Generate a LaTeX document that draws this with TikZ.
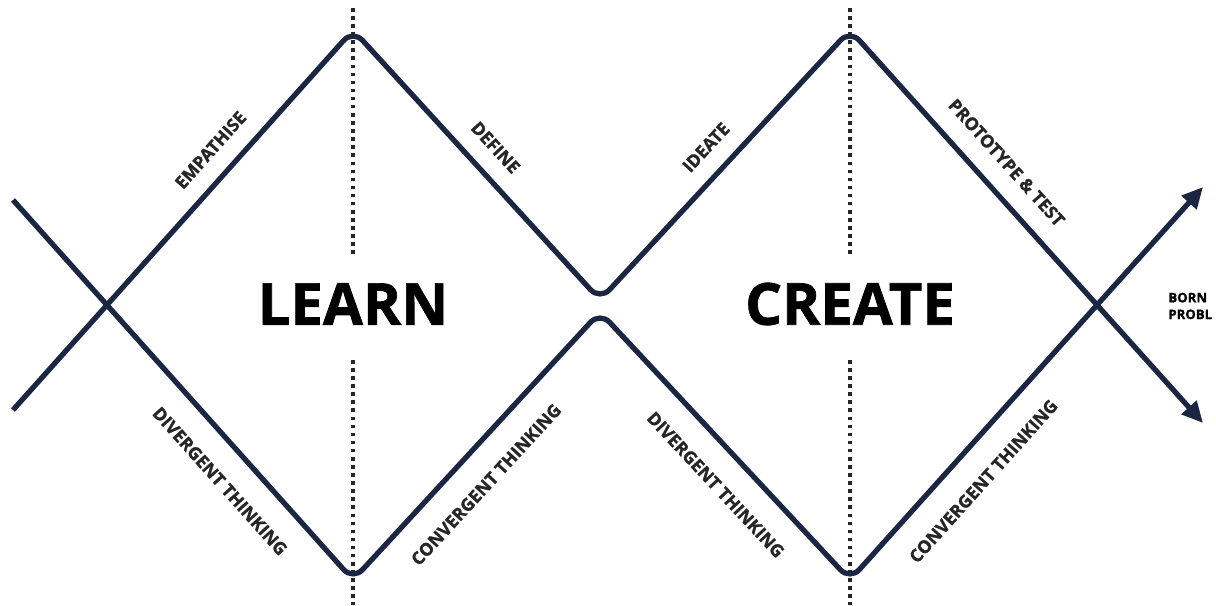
\documentclass[tikz,border=0pt]{standalone}
\usepackage{fontspec}
\setmainfont{Open Sans}
\newfontfamily\heavyfont{Open Sans}[BoldFeatures={FakeBold=1.2}]
\usetikzlibrary{arrows.meta}

\definecolor{navy}{HTML}{1B2742}

\tikzset{
  wave/.style={draw=navy, line width=3pt, rounded corners=8pt},
  divider/.style={draw=black!85, line width=2pt, dash pattern=on 2pt off 2.6pt},
  stage/.style={font=\heavyfont\bfseries\fontsize{10}{12}\selectfont, text=black!85, inner sep=0pt, sloped},
  phase/.style={font=\heavyfont\bfseries\fontsize{33}{36}\selectfont, text=black},
}

\begin{document}
\begin{tikzpicture}[x=0.02cm, y=-0.02cm]
  \useasboundingbox (0,0) rectangle (1216,605);

  % corners of the upper and the lower line
  \coordinate (u0) at (13,410);
  \coordinate (u1) at (353,30);
  \coordinate (u2) at (600,300);
  \coordinate (u3) at (850,30);
  \coordinate (u4) at (1203,423);

  \coordinate (l0) at (13,200);
  \coordinate (l1) at (353,580);
  \coordinate (l2) at (600,312);
  \coordinate (l3) at (850,580);
  \coordinate (l4) at (1203,187);

  \coordinate (xl) at (107,305);
  \coordinate (xr) at (1097,305);

  \foreach \x in {353,850}{
    \draw[divider] (\x,8) -- (\x,255);
    \draw[divider] (\x,360) -- (\x,605);
  }

  \draw[wave, -{Triangle[length=12pt, width=11pt]}] (u0) -- (u1) -- (u2) -- (u3) -- (u4);
  \draw[wave, -{Triangle[length=12pt, width=11pt]}] (l0) -- (l1) -- (l2) -- (l3) -- (l4);

  % stage names above the lines
  \path (xl) -- node[stage, above=11pt] (empathise) {EMPATHISE} (u1);
  \path (u1) -- node[stage, above=11pt] (define) {DEFINE} (u2);
  \path (u2) -- node[stage, above=11pt] (ideate) {IDEATE} (u3);
  \path (u3) -- node[stage, pos=0.55, above=12pt] (prototype) {PROTOTYPE \& TEST} (xr);

  % thinking modes below the lines
  \path (xl) -- node[stage, pos=0.56, below=15pt] (diverge1) {DIVERGENT THINKING} (l1);
  \path (l1) -- node[stage, pos=0.44, below=15pt] (converge1) {CONVERGENT THINKING} (l2);
  \path (l2) -- node[stage, pos=0.56, below=15pt] (diverge2) {DIVERGENT THINKING} (l3);
  \path (l3) -- node[stage, pos=0.44, below=15pt] (converge2) {CONVERGENT THINKING} (xr);

  \node[phase] (learn) at (353,304) {LEARN};
  \node[phase] (create) at (850,304) {CREATE};

  \node[anchor=west, align=left, inner sep=0pt, font=\heavyfont\bfseries\fontsize{7.5}{9.5}\selectfont] (born) at (1168,306) {BORN\\PROBL};
\end{tikzpicture}
\end{document}
